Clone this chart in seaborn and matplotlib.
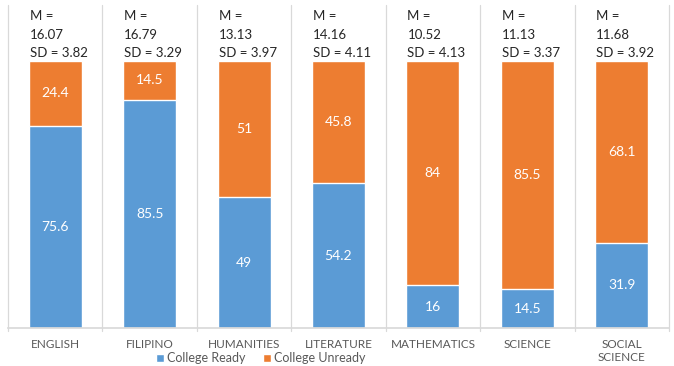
import matplotlib
matplotlib.use("Agg")
import matplotlib.pyplot as plt
import seaborn as sns
import pandas as pd
from matplotlib.patches import Patch

categories = ["ENGLISH", "FILIPINO", "HUMANITIES", "LITERATURE", "MATHEMATICS", "SCIENCE", "SOCIAL\nSCIENCE"]
college_ready = [75.6, 85.5, 49, 54.2, 16, 14.5, 31.9]
college_unready = [24.4, 14.5, 51, 45.8, 84, 85.5, 68.1]
means = ["16.07", "16.79", "13.13", "14.16", "10.52", "11.13", "11.68"]
sds = ["3.82", "3.29", "3.97", "4.11", "4.13", "3.37", "3.92"]

BLUE = "#5B9BD5"
ORANGE = "#ED7D31"
GRAY = "#595959"

df = pd.DataFrame({
    "cat": categories,
    "ready": college_ready,
    "unready": college_unready,
})
df["total"] = df["ready"] + df["unready"]

sns.set_theme(style="white")
plt.rcParams["font.family"] = ["Lato", "DejaVu Sans"]

fig = plt.figure(figsize=(6.74, 3.66), dpi=100)
ax = fig.add_axes([8 / 674, 38 / 366, 661 / 674, 328 / 366])

sns.barplot(data=df, x="cat", y="total", color=ORANGE, width=0.56, ax=ax,
            saturation=1, errorbar=None)
sns.barplot(data=df, x="cat", y="ready", color=BLUE, width=0.56, ax=ax,
            saturation=1, errorbar=None)

ax.set_ylim(0, 122.8)
ax.set_xlim(-0.5, len(categories) - 0.5)

orange_bars = ax.containers[0]
blue_bars = ax.containers[1]

for i, (pb, po) in enumerate(zip(blue_bars, orange_bars)):
    xc = pb.get_x() + pb.get_width() / 2
    r = college_ready[i]
    u = college_unready[i]
    ax.text(xc, r / 2, f"{r:g}", ha="center", va="center", color="white", fontsize=10)
    ax.text(xc, r + u / 2, f"{u:g}", ha="center", va="center", color="white", fontsize=10)
    xl = pb.get_x() + 0.01
    top = r + u
    ax.text(xl, top + 0.6, f"M =\n{means[i]}\nSD = {sds[i]}", ha="left", va="bottom",
            color="#262626", fontsize=9.5, linespacing=1.65)

# category separators
for k in range(len(categories) + 1):
    ax.axvline(k - 0.5, ymin=-0.01, ymax=0.985, color="#D9D9D9", lw=0.9, clip_on=False)

for s in ["top", "right", "left"]:
    ax.spines[s].set_visible(False)
ax.spines["bottom"].set_color("#D9D9D9")
ax.set_yticks([])
ax.set_xlabel("")
ax.set_ylabel("")
ax.tick_params(axis="x", length=0, pad=8, labelsize=8.5, labelcolor=GRAY)

handles = [Patch(facecolor=BLUE, label="College Ready"),
           Patch(facecolor=ORANGE, label="College Unready")]
fig.legend(handles=handles, loc="center", bbox_to_anchor=(261 / 674, 1 - 358 / 366),
           ncol=2, frameon=False, fontsize=9, handlelength=0.6, handleheight=0.6,
           handletextpad=0.3, columnspacing=1.4, labelcolor=GRAY)

fig.savefig("out.png", dpi=100)
